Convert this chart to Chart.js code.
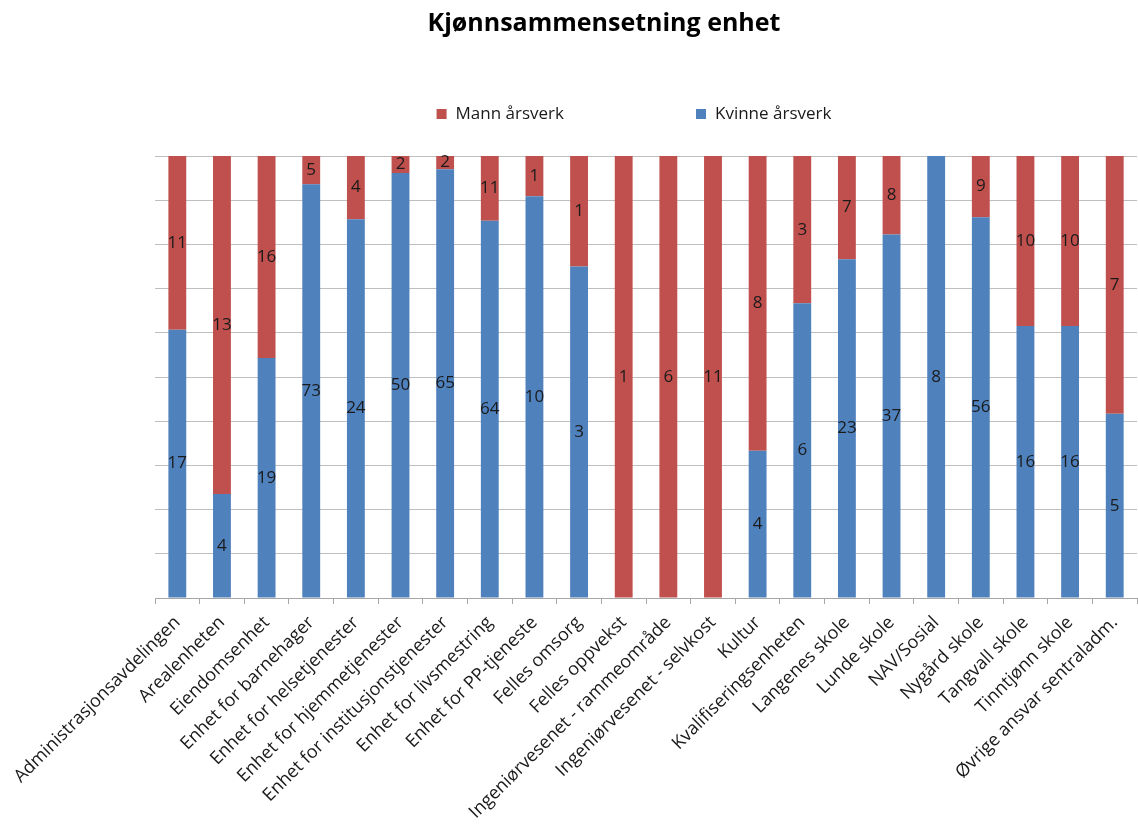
<!DOCTYPE html>
<html>
<head>
<meta charset="utf-8">
<script src="https://cdn.jsdelivr.net/npm/chart.js@4.4.1/dist/chart.umd.min.js"></script>
<style>
  body { margin: 0; background: #fff; }
</style>
</head>
<body>
<canvas id="chart" width="1138" height="825"></canvas>
<script>
const enheter = [
  "Administrasjonsavdelingen", "Arealenheten", "Eiendomsenhet", "Enhet for barnehager",
  "Enhet for helsetjenester", "Enhet for hjemmetjenester", "Enhet for institusjonstjenester",
  "Enhet for livsmestring", "Enhet for PP-tjeneste", "Felles omsorg", "Felles oppvekst",
  "Ingeniørvesenet - rammeområde", "Ingeniørvesenet - selvkost", "Kultur",
  "Kvalifiseringsenheten", "Langenes skole", "Lunde skole", "NAV/Sosial", "Nygård skole",
  "Tangvall skole", "Tinntjønn skole", "Øvrige ansvar sentraladm."
];
const kvinneAarsverk = [17, 4, 19, 73, 24, 50, 65, 64, 10, 3, 0, 0, 0, 4, 6, 23, 37, 8, 56, 16, 16, 5];
const mannAarsverk   = [11, 13, 16, 5, 4, 2, 2, 11, 1, 1, 1, 6, 11, 8, 3, 7, 8, 0, 9, 10, 10, 7];

const FONT = '"Open Sans", "DejaVu Sans", sans-serif';

// 100 % stablet: andel av total per enhet
const kvinnePst = kvinneAarsverk.map((k, i) => k / (k + mannAarsverk[i]) * 100);
const mannPst = mannAarsverk.map((m, i) => m / (kvinneAarsverk[i] + m) * 100);

const valueLabels = {
  id: "valueLabels",
  afterDatasetsDraw(chart) {
    const ctx = chart.ctx;
    ctx.save();
    ctx.font = "17px " + FONT;
    ctx.fillStyle = "#1a1a1a";
    ctx.textAlign = "center";
    ctx.textBaseline = "middle";
    chart.data.datasets.forEach((ds, di) => {
      const meta = chart.getDatasetMeta(di);
      meta.data.forEach((bar, i) => {
        const v = ds.raw[i];
        if (!v) return;
        const p = bar.getProps(["x", "y", "base"], true);
        ctx.fillText(String(v), p.x, (p.y + p.base) / 2);
      });
    });
    ctx.restore();
  }
};

const customLegend = {
  id: "customLegend",
  afterDraw(chart) {
    const ctx = chart.ctx;
    const items = chart.data.datasets.slice().reverse();
    ctx.save();
    ctx.font = "17px " + FONT;
    ctx.textBaseline = "middle";
    const box = 10, gapText = 9, gapItem = 132;
    const widths = items.map(d => box + gapText + ctx.measureText(d.label).width);
    const total = widths.reduce((a, b) => a + b, 0) + gapItem * (items.length - 1);
    let x = 634 - total / 2;
    const y = chart.chartArea.top - 42;
    items.forEach((d, i) => {
      ctx.fillStyle = d.backgroundColor;
      ctx.fillRect(x, y - box / 2, box, box);
      ctx.fillStyle = "#1a1a1a";
      ctx.fillText(d.label, x + box + gapText, y);
      x += widths[i] + gapItem;
    });
    ctx.restore();
  }
};

new Chart(document.getElementById("chart"), {
  type: "bar",
  data: {
    labels: enheter,
    datasets: [
      {
        label: "Kvinne årsverk",
        data: kvinnePst,
        raw: kvinneAarsverk,
        backgroundColor: "#4F81BD",
        barPercentage: 0.4,
        categoryPercentage: 1.0
      },
      {
        label: "Mann årsverk",
        data: mannPst,
        raw: mannAarsverk,
        backgroundColor: "#C0504D",
        barPercentage: 0.4,
        categoryPercentage: 1.0
      }
    ]
  },
  options: {
    responsive: false,
    animation: false,
    layout: { padding: { left: 70, right: 0, top: 0, bottom: 0 } },
    plugins: {
      legend: { display: false },
      tooltip: { enabled: false },
      title: {
        display: true,
        text: "Kjønnsammensetning enhet",
        color: "#000",
        font: { family: FONT, size: 25, weight: "bold" },
        padding: { top: 9, bottom: 117 }
      }
    },
    scales: {
      x: {
        stacked: true,
        grid: { drawOnChartArea: false, drawTicks: true, tickLength: 6, color: "#A6A6A6", offset: true },
        border: { display: true, color: "#A6A6A6" },
        ticks: {
          color: "#1a1a1a",
          font: { family: FONT, size: 18 },
          maxRotation: 45,
          minRotation: 45,
          autoSkip: false,
          padding: 8
        },
        afterFit: (scale) => { scale.height = 227; }
      },
      y: {
        stacked: true,
        min: 0,
        max: 100,
        grid: { color: "#BFBFBF", drawTicks: false },
        border: { display: false },
        ticks: { display: false, stepSize: 10 },
        afterFit: (scale) => { scale.width = 85; }
      }
    }
  },
  plugins: [valueLabels, customLegend]
});
</script>
</body>
</html>
